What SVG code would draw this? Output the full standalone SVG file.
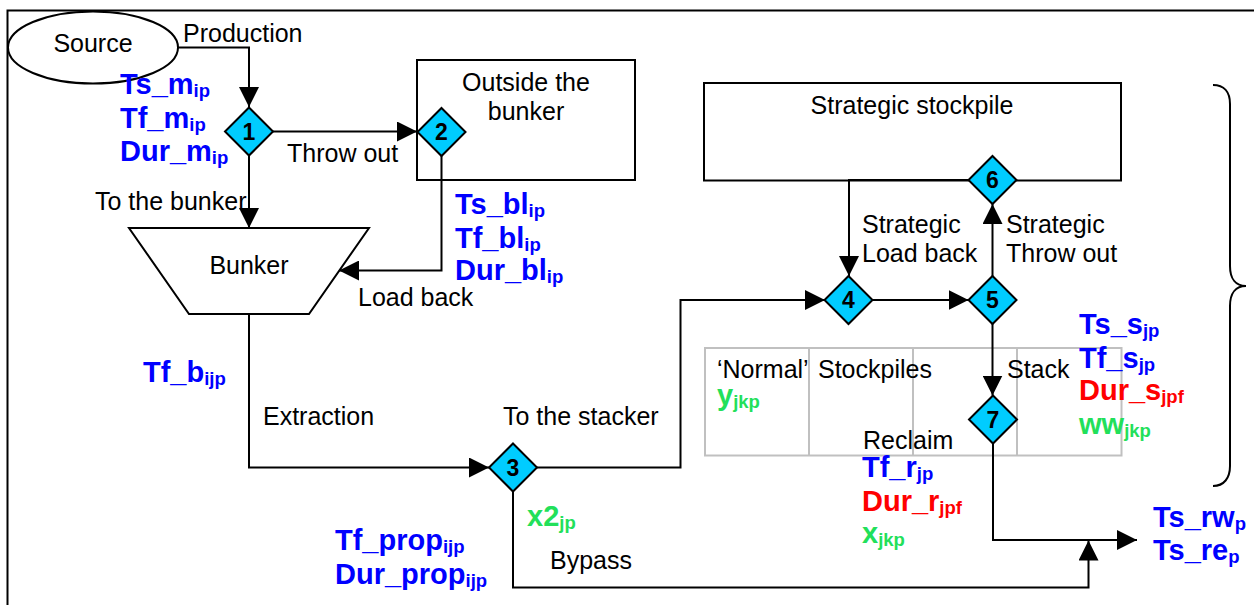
<svg xmlns="http://www.w3.org/2000/svg" width="1254" height="605" viewBox="0 0 1254 605">
  <style>
    .frame{fill:none;stroke:#000;stroke-width:2}
    .shape{fill:#fff;stroke:#000;stroke-width:2}
    .dia{fill:#00CCFF;stroke:#000;stroke-width:2}
    .grid{fill:none;stroke:#C0C0C0;stroke-width:2}
    .wire{fill:none;stroke:#000;stroke-width:2}
    .arr{marker-end:url(#arrow)}
    text{font-family:"Liberation Sans",Arial,sans-serif}
    .num{font-size:23px;font-weight:bold;text-anchor:middle;fill:#000}
    .lbl{font-size:25px;fill:#000}
    .mid{text-anchor:middle}
    .var{font-size:29px;font-weight:bold}
    .sub{font-size:18.5px}
    .blue{fill:#0000FF}
    .red{fill:#FF0000}
    .green{fill:#22E05A}
  </style>
  <defs>
    <marker id="arrow" markerUnits="userSpaceOnUse" markerWidth="20" markerHeight="20" refX="20" refY="10" orient="auto">
      <path d="M0,0 L20,10 L0,20 Z" fill="#000"/>
    </marker>
    <path id="dm" class="dia" d="M0,-24 L24,0 L0,24 L-24,0 Z"/>
  </defs>

  <rect width="1254" height="605" fill="#fff"/>
  <!-- outer frame -->
  <rect class="frame" x="7.5" y="10.5" width="1260" height="620"/>

  <!-- stockpile grid (background) -->
  <g id="stockpiles">
    <rect class="grid" x="705" y="348" width="416.5" height="107.5"/>
    <path class="grid" d="M809,348 V455.5 M913,348 V455.5 M1017,348 V455.5"/>
    <text class="lbl" x="717" y="378">‘Normal’</text>
    <text class="lbl" x="818" y="378">Stockpiles</text>
    <text class="lbl" x="1007" y="378">Stack</text>
    <text class="lbl" x="863" y="449">Reclaim</text>
  </g>

  <g id="source">
    <ellipse class="shape" cx="93" cy="47.5" rx="85" ry="36"/>
    <text class="lbl mid" x="93" y="52">Source</text>
  </g>

  <g id="outside">
    <rect class="shape" x="417" y="60" width="218" height="120"/>
    <text class="lbl mid" x="526" y="91">Outside the</text>
    <text class="lbl mid" x="526" y="120">bunker</text>
  </g>

  <g id="strategic">
    <rect class="shape" x="704" y="83" width="417" height="97.5"/>
    <text class="lbl mid" x="912" y="114">Strategic stockpile</text>
  </g>

  <g id="bunker">
    <path class="shape" d="M129,228 H369 L309,314 H189 Z"/>
    <text class="lbl mid" x="249" y="274">Bunker</text>
  </g>

  <!-- connectors -->
  <g id="connectors">
    <path class="wire arr" d="M178,47.5 H249 V107"/>
    <path class="wire arr" d="M273,131.5 H417"/>
    <path class="wire arr" d="M249,155.5 V228"/>
    <path class="wire arr" d="M441.5,156 V270.5 H339"/>
    <path class="wire arr" d="M249,314 V467.5 H489"/>
    <path class="wire arr" d="M537,467.5 H680.5 V300 H825"/>
    <path class="wire arr" d="M872.5,300 H968.5"/>
    <path class="wire arr" d="M992.5,276 V204"/>
    <path class="wire arr" d="M968.5,180 H849 V276"/>
    <path class="wire arr" d="M992.5,324 V395.5"/>
    <path class="wire arr" d="M993,443.5 V540 H1137"/>
    <path class="wire arr" d="M513,491.5 V587.5 H1088.5 V540.5"/>
  </g>

  <!-- decision points -->
  <g id="d1"><use href="#dm" x="249" y="131.5"/><text class="num" x="249" y="139.5">1</text></g>
  <g id="d2"><use href="#dm" x="441.5" y="132"/><text class="num" x="441.5" y="140">2</text></g>
  <g id="d3"><use href="#dm" x="513" y="467.5"/><text class="num" x="513" y="475.5">3</text></g>
  <g id="d4"><use href="#dm" x="848.5" y="300"/><text class="num" x="848.5" y="308">4</text></g>
  <g id="d5"><use href="#dm" x="992.5" y="300"/><text class="num" x="992.5" y="308">5</text></g>
  <g id="d6"><use href="#dm" x="992.5" y="180"/><text class="num" x="992.5" y="188">6</text></g>
  <g id="d7"><use href="#dm" x="993" y="419.5"/><text class="num" x="993" y="427.5">7</text></g>

  <!-- flow labels -->
  <g id="flow-labels">
    <text class="lbl" x="183" y="42">Production</text>
    <text class="lbl" x="287" y="162">Throw out</text>
    <text class="lbl" x="95" y="210">To the bunker</text>
    <text class="lbl" x="358" y="306">Load back</text>
    <text class="lbl" x="263" y="425">Extraction</text>
    <text class="lbl" x="503" y="425">To the stacker</text>
    <text class="lbl" x="550" y="569">Bypass</text>
    <text class="lbl" x="862" y="233">Strategic</text>
    <text class="lbl" x="862" y="262">Load back</text>
    <text class="lbl" x="1006" y="233">Strategic</text>
    <text class="lbl" x="1006" y="262">Throw out</text>
  </g>

  <!-- variables -->
  <g id="variables">
    <text class="var blue" x="120" y="94">Ts_m<tspan class="sub" dy="3">ip</tspan></text>
    <text class="var blue" x="120" y="128">Tf_m<tspan class="sub" dy="3">ip</tspan></text>
    <text class="var blue" x="120" y="161">Dur_m<tspan class="sub" dy="3">ip</tspan></text>

    <text class="var blue" x="455" y="214">Ts_bl<tspan class="sub" dy="3">ip</tspan></text>
    <text class="var blue" x="455" y="248">Tf_bl<tspan class="sub" dy="3">ip</tspan></text>
    <text class="var blue" x="455" y="280">Dur_bl<tspan class="sub" dy="3">ip</tspan></text>

    <text class="var blue" x="143" y="382">Tf_b<tspan class="sub" dy="3">ijp</tspan></text>

    <text class="var blue" x="335" y="550">Tf_prop<tspan class="sub" dy="3">ijp</tspan></text>
    <text class="var blue" x="335" y="584">Dur_prop<tspan class="sub" dy="3">ijp</tspan></text>

    <text class="var green" x="527" y="526">x2<tspan class="sub" dy="3">jp</tspan></text>

    <text class="var green" x="717" y="405">y<tspan class="sub" dy="3">jkp</tspan></text>

    <text class="var blue" x="862" y="477">Tf_r<tspan class="sub" dy="3">jp</tspan></text>
    <text class="var red" x="862" y="511">Dur_r<tspan class="sub" dy="3">jpf</tspan></text>
    <text class="var green" x="862" y="543">x<tspan class="sub" dy="3">jkp</tspan></text>

    <text class="var blue" x="1079" y="334">Ts_s<tspan class="sub" dy="3">jp</tspan></text>
    <text class="var blue" x="1079" y="368">Tf_s<tspan class="sub" dy="3">jp</tspan></text>
    <text class="var red" x="1079" y="400">Dur_s<tspan class="sub" dy="3">jpf</tspan></text>
    <text class="var green" x="1079" y="434">ww<tspan class="sub" dy="3">jkp</tspan></text>

    <text class="var blue" x="1153" y="527">Ts_rw<tspan class="sub" dy="3">p</tspan></text>
    <text class="var blue" x="1153" y="560">Ts_re<tspan class="sub" dy="3">p</tspan></text>
  </g>

  <!-- brace grouping the stockpile stages -->
  <path class="wire" d="M1213,85 C1224,85 1230,92 1230,104 V266 C1230,279 1236,286 1246,286 C1236,286 1230,293 1230,306 V466 C1230,478 1224,486 1213,486"/>
</svg>
